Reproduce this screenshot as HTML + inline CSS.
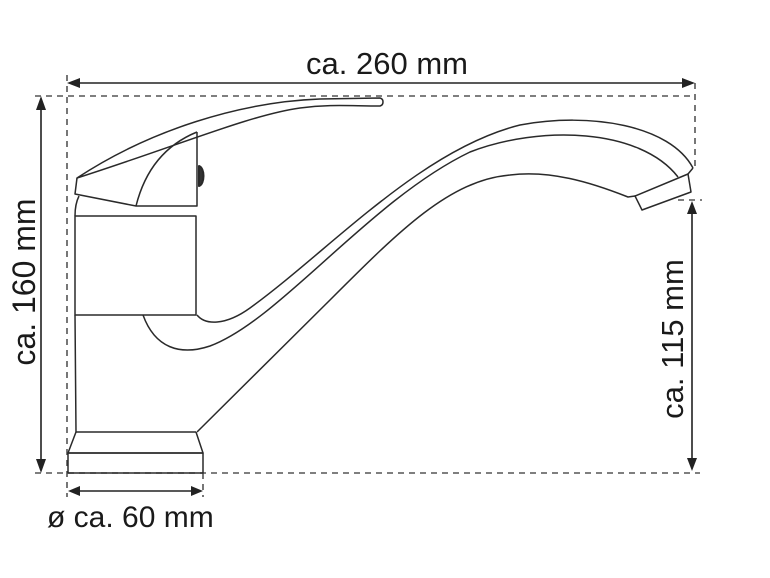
<!DOCTYPE html>
<html><head><meta charset="utf-8"><style>
html,body{margin:0;padding:0;background:#fff;}
svg{display:block;}
text{font-family:"Liberation Sans",sans-serif;fill:#1a1a1a;}
</style></head><body>
<svg width="770" height="578" viewBox="0 0 770 578" xmlns="http://www.w3.org/2000/svg">
<g fill="none" stroke="#555" stroke-width="1.6" stroke-dasharray="6,5">
<line x1="35" y1="96" x2="693" y2="96"/>
<line x1="67" y1="75" x2="67" y2="497"/>
<line x1="695" y1="83" x2="695" y2="168"/>
<line x1="678" y1="200" x2="702" y2="200"/>
<line x1="35" y1="473" x2="700" y2="473"/>
<line x1="203" y1="473" x2="203" y2="497"/>
</g>
<g stroke="#222" stroke-width="1.6" fill="none">
<line x1="70" y1="83" x2="690" y2="83"/>
<line x1="41" y1="100" x2="41" y2="469"/>
<line x1="692" y1="204" x2="692" y2="467"/>
<line x1="71" y1="491" x2="200" y2="491"/>
</g>
<g fill="#222">
<polygon points="67,83 80,78 80,88"/>
<polygon points="695,83 682,78 682,88"/>
<polygon points="41,96 36,110 46,110"/>
<polygon points="41,473 36,459 46,459"/>
<polygon points="692,201 687,214 697,214"/>
<polygon points="692,471 687,458 697,458"/>
<polygon points="68,491 80,486 80,496"/>
<polygon points="203,491 191,486 191,496"/>
</g>
<g stroke="#2a2a2a" stroke-width="1.5" fill="none" stroke-linejoin="round">
<path d="M77,178 C150,130 240,102 320,99 L380,98 C384,99 384,105 380,106 C350,106 330,104 300,108 C250,115 180,145 77,178 Z"/>
<path d="M77,178 L75,194 L136,206 L197,206 L197,132"/>
<path d="M136,206 C145,170 165,145 197,132"/>
<path d="M199,166 C205,168 205,184 199,186 Z" fill="#333" stroke-width="2"/>
<path d="M79,196 C76,202 75,208 75,216"/>
<rect x="75" y="216" width="121" height="99"/>
<path d="M75,315 L76,432 L196,432"/>
<path d="M76,432 L68,453 L203,453 L196,432"/>
<rect x="68" y="453" width="135" height="20"/>
<path d="M197,315 C205,325 225,326 250,308 C330,250 420,150 520,125 C590,112 670,125 693,168"/>
<path d="M143,315 C155,348 180,356 210,346 C280,320 370,200 470,152 C540,125 640,128 678,177"/>
<path d="M197,432 L330,300 C400,230 450,180 510,175 C550,170 590,182 628,197 L635,196"/>
<polygon points="635,196 688,174 691,192 642,210"/>
<line x1="688" y1="174" x2="693" y2="168"/>
</g>
<text x="387" y="74" font-size="31" text-anchor="middle">ca. 260 mm</text>
<text x="47" y="527" font-size="30">ø ca. 60 mm</text>
<text transform="translate(35,282) rotate(-90)" font-size="32" text-anchor="middle">ca. 160 mm</text>
<text transform="translate(683,339) rotate(-90)" font-size="31" text-anchor="middle">ca. 115 mm</text>
</svg>
</body></html>
